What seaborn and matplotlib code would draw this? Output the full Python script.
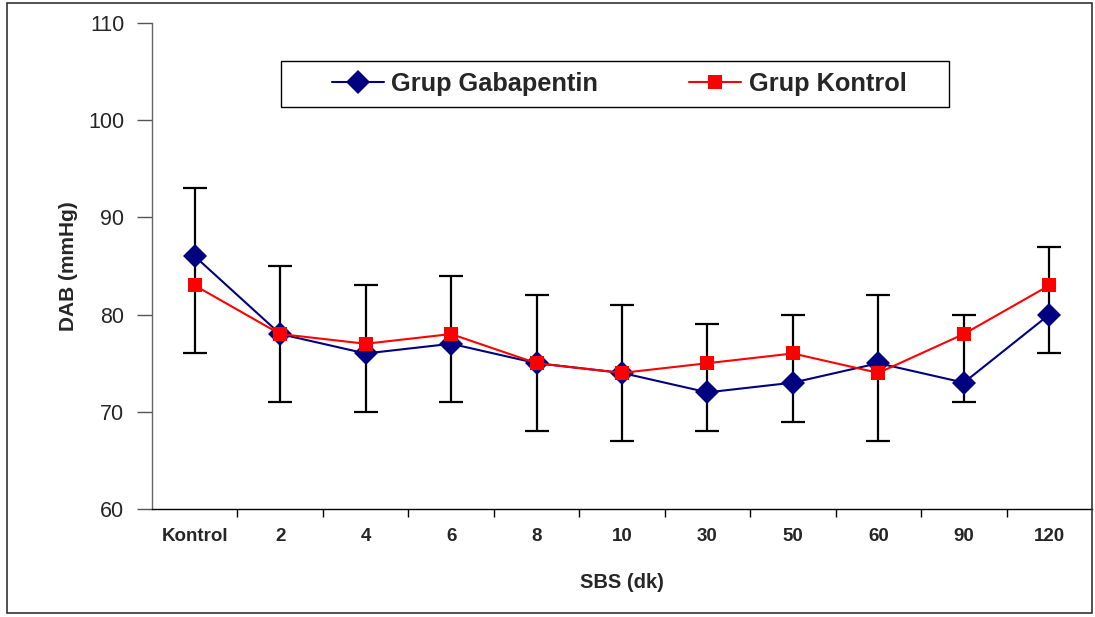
import numpy as np
import pandas as pd
import matplotlib
matplotlib.use("Agg")
import matplotlib.pyplot as plt
import seaborn as sns
from matplotlib.patches import Rectangle

# DATA
time_labels = ["Kontrol", "2", "4", "6", "8", "10", "30", "50", "60", "90", "120"]
gabapentin = [86, 78, 76, 77, 75, 74, 72, 73, 75, 73, 80]
kontrol = [83, 78, 77, 78, 75, 74, 75, 76, 74, 78, 83]
# ends of the error bar drawn at each time point
err_upper = [93, 85, 83, 84, 82, 81, 79, 80, 82, 80, 87]
err_lower = [76, 71, 70, 71, 68, 67, 68, 69, 67, 71, 76]

series_names = ["Grup Gabapentin", "Grup Kontrol"]

pos = np.arange(len(time_labels))
df = pd.DataFrame({"pos": pos, "gaba": gabapentin, "kont": kontrol})

# STYLE
sns.set_style("white")
plt.rcParams["font.family"] = ["Liberation Sans", "DejaVu Sans"]

fig = plt.figure(figsize=(10.95, 6.17), dpi=100)
ax = fig.add_axes([152 / 1095, 108 / 617, 940 / 1095, 486 / 617])

# error bars behind the lines
lo = np.array(err_lower)
hi = np.array(err_upper)
mid = (lo + hi) / 2
ax.errorbar(pos, mid, yerr=(hi - lo) / 2, fmt="none", ecolor="black",
            elinewidth=1.6, capsize=8.5, capthick=1.6, zorder=1)

sns.lineplot(data=df, x="pos", y="gaba", color="#000080", marker="D",
             markersize=12, markeredgewidth=0, linewidth=1.5,
             label=series_names[0], ax=ax, zorder=3)
sns.lineplot(data=df, x="pos", y="kont", color="#FF0000", marker="s",
             markersize=9.5, markeredgewidth=0, linewidth=1.5,
             label=series_names[1], ax=ax, zorder=4)

# AXES
ax.set_xlim(-0.5, len(time_labels) - 0.5)
ax.set_ylim(60, 110)
ax.set_yticks(range(60, 111, 10))
ax.tick_params(axis="y", labelsize=15.5, length=11, width=1, direction="out",
               left=True, color="#555555", pad=9)
ax.set_xticks(pos)
ax.set_xticklabels(time_labels, fontsize=13.5, fontweight="bold")
ax.set_xticks(np.arange(0.5, len(time_labels) - 0.5, 1), minor=True)
ax.tick_params(axis="x", which="major", length=0, pad=14)
ax.tick_params(axis="x", which="minor", length=6, width=1, direction="out",
               bottom=True, color="black")

ax.set_xlabel("SBS (dk)", fontsize=14.5, fontweight="bold", labelpad=20)
ax.set_ylabel("DAB (mmHg)", fontsize=15, fontweight="bold", labelpad=7)

for side in ["top", "right"]:
    ax.spines[side].set_visible(False)
ax.spines["left"].set_color("#666666")
ax.spines["bottom"].set_color("black")
ax.spines["left"].set_linewidth(1)
ax.spines["bottom"].set_linewidth(1)

# legend: box drawn separately, entries spread inside it
ax.add_patch(Rectangle((0.1372, 0.8272), 0.7106, 0.0947, transform=ax.transAxes,
                       facecolor="white", edgecolor="black", linewidth=1,
                       zorder=5, clip_on=False))
leg = ax.legend(loc="center", bbox_to_anchor=(0.1777, 0.8272, 0.6383, 0.0947),
                mode="expand", ncol=2, frameon=False, borderpad=0,
                prop={"size": 18.3, "weight": "bold"}, handlelength=2.05,
                handletextpad=0.28)
leg.set_zorder(6)

# outer chart border
fig.patches.append(Rectangle((7 / 1095, 4 / 617), 1085 / 1095, 610 / 617,
                             transform=fig.transFigure, fill=False,
                             edgecolor="#333333", linewidth=1.2))

fig.savefig("out.png", dpi=100)
